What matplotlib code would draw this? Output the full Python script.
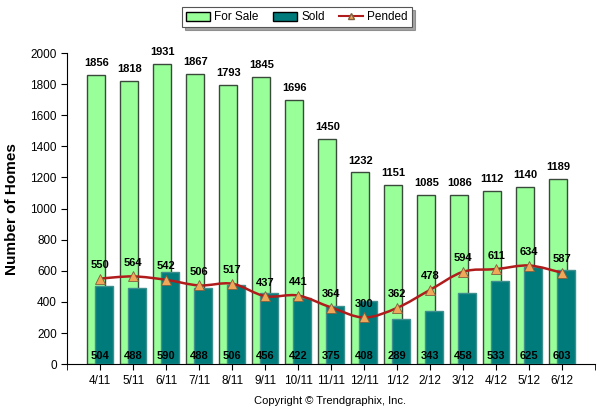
import numpy as np
from matplotlib import pyplot as plt
from matplotlib.path import Path
from matplotlib import patches as mp
from matplotlib.lines import Line2D

plt.rcParams['font.family'] = ['Liberation Sans', 'DejaVu Sans']

months = ['4/11', '5/11', '6/11', '7/11', '8/11', '9/11', '10/11', '11/11',
          '12/11', '1/12', '2/12', '3/12', '4/12', '5/12', '6/12']
for_sale = [1856, 1818, 1931, 1867, 1793, 1845, 1696, 1450, 1232, 1151,
            1085, 1086, 1112, 1140, 1189]
sold = [504, 488, 590, 488, 506, 456, 422, 375, 408, 289, 343, 458, 533,
        625, 603]
pended = [550, 564, 542, 506, 517, 437, 441, 364, 300, 362, 478, 594, 611,
          634, 587]

sale_c = '#99ff99'
sold_c = '#007b7b'
line_c = '#b01c1c'
mark_c = '#f0a858'

fig = plt.figure(figsize=(6, 4.11), dpi=100)
ax = fig.add_axes([0.112, 0.114, 0.880, 0.757])

x = np.arange(1, len(months) + 1)
w = 0.55
ax.bar(x - 0.12, for_sale, w, color=sale_c, edgecolor='#3a4a3a',
       linewidth=1.0, zorder=2)
ax.bar(x + 0.12, sold, w, color=sold_c, edgecolor='#3f8f8f',
       linewidth=1.0, zorder=3)

# smooth line through pended values (catmull-rom as bezier segments)
pts = np.column_stack([x, pended]).astype(float)
verts = [pts[0]]
codes = [Path.MOVETO]
for i in range(len(pts) - 1):
    p0 = pts[i - 1] if i > 0 else pts[i]
    p1 = pts[i]
    p2 = pts[i + 1]
    p3 = pts[i + 2] if i + 2 < len(pts) else pts[i + 1]
    verts += [p1 + (p2 - p0) / 6, p2 - (p3 - p1) / 6, p2]
    codes += [Path.CURVE4] * 3
ax.add_patch(mp.PathPatch(Path(verts, codes), fill=False, edgecolor=line_c,
                          linewidth=1.8, zorder=4))
ax.plot(x, pended, linestyle='none', marker='^', markersize=7,
        markerfacecolor=mark_c, markeredgecolor='#806040',
        markeredgewidth=0.6, zorder=5)

for xi, v in zip(x, for_sale):
    ax.annotate(str(v), (xi - 0.12, v), xytext=(0, 5), textcoords='offset points',
                ha='center', va='bottom', fontsize=8, fontweight='bold',
                annotation_clip=False, zorder=6)
for xi, v in zip(x, sold):
    ax.text(xi, 55, str(v), ha='center', va='center', fontsize=8,
            fontweight='bold', color='black', zorder=6)
for xi, v in zip(x, pended):
    ax.annotate(str(v), (xi, v), xytext=(0, 6), textcoords='offset points',
                ha='center', va='bottom', fontsize=8, fontweight='bold',
                zorder=6)

ax.set_xlim(0, 16)
ax.set_ylim(0, 2000)
ax.set_xticks(x)
ax.set_xticklabels(months, fontsize=8.5)
ax.set_xticks([0, 16], minor=True)
ax.tick_params(axis='x', which='both', length=4, direction='out')
ax.set_yticks(range(0, 2001, 200))
ax.tick_params(axis='y', labelsize=8.5, length=4)
ax.spines['top'].set_visible(False)
ax.spines['right'].set_visible(False)
ax.set_ylabel('Number of Homes', fontsize=11, fontweight='bold', labelpad=8)

handles = [mp.Patch(facecolor=sale_c, edgecolor='black', label='For Sale'),
           mp.Patch(facecolor=sold_c, edgecolor='black', label='Sold'),
           Line2D([0], [0], color=line_c, marker='^', markersize=4,
                  markerfacecolor=mark_c, markeredgecolor='#806040',
                  label='Pended')]
leg = fig.legend(handles=handles, loc='upper center', ncol=3,
                 bbox_to_anchor=(0.495, 0.997), fontsize=8.5, frameon=True,
                 fancybox=False, shadow=True, edgecolor='#555555',
                 handlelength=2.0, handleheight=0.8, handletextpad=0.4,
                 columnspacing=1.2, borderpad=0.35)
leg.get_frame().set_linewidth(0.8)

fig.text(0.55, 0.025, 'Copyright \u00a9 Trendgraphix, Inc.', ha='center',
         va='center', fontsize=8)

fig.savefig('out.png', dpi=100)
